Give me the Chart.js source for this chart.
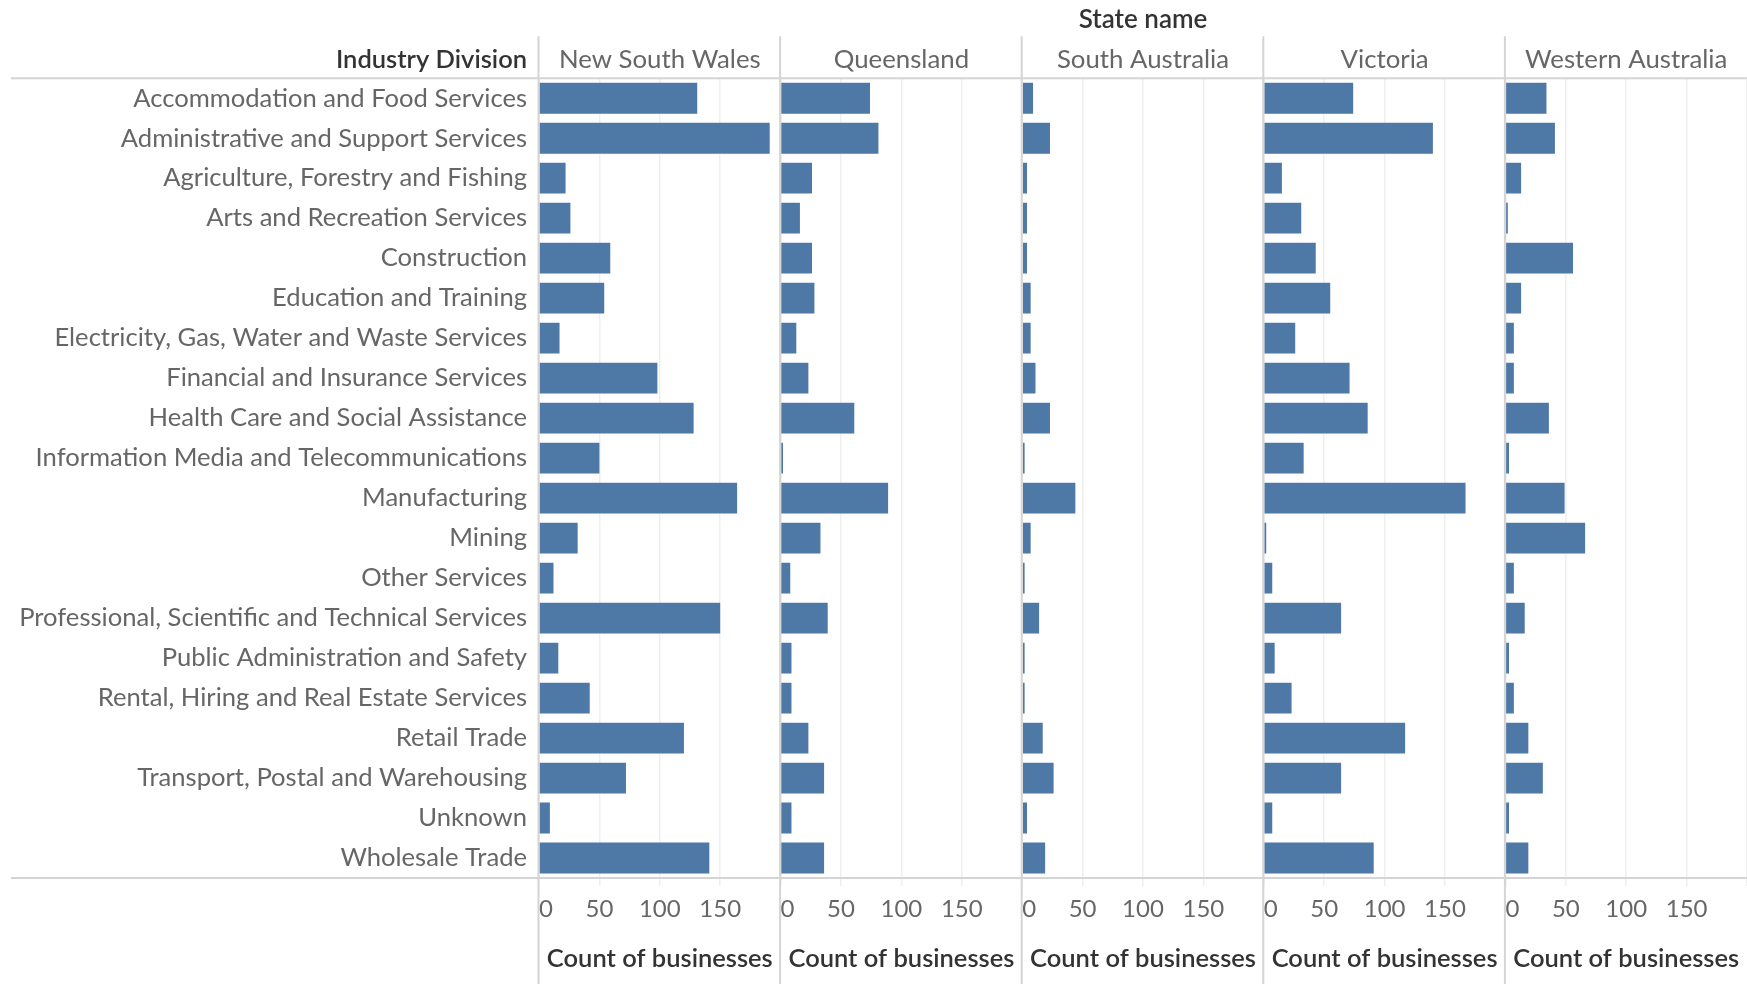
<!DOCTYPE html>
<html>
<head>
<meta charset="utf-8">
<script src="https://cdn.jsdelivr.net/npm/chart.js@4.4.1/dist/chart.umd.min.js"></script>
<style>
  html, body { margin: 0; padding: 0; background: #fff; }
  #wrap { width: 1747px; height: 984px; }
</style>
</head>
<body>
<div id="wrap"><canvas id="chart" width="1747" height="984"></canvas></div>
<script>
// rows, top to bottom
const industries = [
    'Accommodation and Food Services',
    'Administrative and Support Services',
    'Agriculture, Forestry and Fishing',
    'Arts and Recreation Services',
    'Construction',
    'Education and Training',
    'Electricity, Gas, Water and Waste Services',
    'Financial and Insurance Services',
    'Health Care and Social Assistance',
    'Information Media and Telecommunications',
    'Manufacturing',
    'Mining',
    'Other Services',
    'Professional, Scientific and Technical Services',
    'Public Administration and Safety',
    'Rental, Hiring and Real Estate Services',
    'Retail Trade',
    'Transport, Postal and Warehousing',
    'Unknown',
    'Wholesale Trade'
];

const states = ['New South Wales', 'Queensland', 'South Australia', 'Victoria', 'Western Australia'];

// count of businesses per state, same order as industries
const nsw = [131, 191, 22, 26, 59, 54, 17, 98, 128, 50, 164, 32, 12, 150, 16, 42, 120, 72, 9, 141];
const qld = [74, 81, 26, 16, 26, 28, 13, 23, 61, 2, 89, 33, 8, 39, 9, 9, 23, 36, 9, 36];
const sa = [9, 23, 4, 4, 4, 7, 7, 11, 23, 2, 44, 7, 2, 14, 2, 2, 17, 26, 4, 19];
const vic = [74, 140, 15, 31, 43, 55, 26, 71, 86, 33, 167, 2, 7, 64, 9, 23, 117, 64, 7, 91];
const wa = [34, 41, 13, 2, 56, 13, 7, 7, 36, 3, 49, 66, 7, 16, 3, 7, 19, 31, 3, 19];

const xMax = 200;
const xStep = 50;

const series = [nsw, qld, sa, vic, wa];

const FONT = 'Lato';
const labelGrey = '#666666';
const darkText = '#333333';
const barBlue = '#4e79a7';
const ruleGrey = '#d4d4d4';
const gridGrey = '#efefef';

const headSize = 25.8;
const headPadTop = 8;

function draw() {

    const scales = {
        y: {
            type: 'category',
            position: 'left',
            grid: {display: false, drawTicks: false},
            border: {display: false},
            ticks: {
                color: labelGrey,
                padding: 12,
                font: {family: FONT, size: 25.6}
            },
            afterFit: function (scale) {
                scale.width = 539;
            }
        }
    };

    // headers above the panels: top boxes get laid out in reverse order
    for (let i = states.length - 1; i >= 0; i--) {
        scales['h' + i] = {
            type: 'linear',
            position: 'top',
            stack: 'head',
            stackWeight: 1,
            min: 0,
            max: xMax,
            grid: {display: false, drawTicks: false},
            border: {display: false},
            ticks: {display: false},
            title: {
                display: true,
                text: states[i],
                color: labelGrey,
                font: {family: FONT, size: headSize},
                padding: {top: headPadTop, bottom: 3.1}
            }
        };
    }

    // value axis of each panel
    states.forEach(function (name, i) {
        scales['x' + i] = {
            type: 'linear',
            position: 'bottom',
            stack: 'foot',
            stackWeight: 1,
            min: 0,
            max: xMax,
            grid: {color: gridGrey, lineWidth: 1.5, tickLength: 8},
            border: {display: false},
            ticks: {
                stepSize: xStep,
                align: 'inner',
                autoSkip: false,
                maxRotation: 0,
                color: labelGrey,
                padding: 9,
                font: {family: FONT, size: 24},
                callback: function (v) {
                    return v >= xMax ? '' : v;
                }
            },
            title: {
                display: true,
                text: 'Count of businesses',
                color: darkText,
                font: {family: FONT, size: 25.5, weight: '600'},
                padding: {top: 4, bottom: 10}
            },
            afterFit: function (scale) {
                scale.height = 106;
                // panels run edge to edge, no room kept for tick labels
                scale.paddingLeft = 0;
                scale.paddingRight = 0;
            }
        };
    });

    const framePlugin = {
        id: 'frame',
        beforeDatasetsDraw: function (chart) {
            const ctx = chart.ctx;
            const area = chart.chartArea;
            const headTop = chart.scales.h0.top;
            ctx.save();
            ctx.strokeStyle = ruleGrey;
            ctx.lineWidth = 2;
            [area.top, area.bottom].forEach(function (y) {
                ctx.beginPath();
                ctx.moveTo(11, y);
                ctx.lineTo(chart.width, y);
                ctx.stroke();
            });
            states.forEach(function (s, i) {
                const x = chart.scales['x' + i].getPixelForValue(0) - 0.5;
                ctx.beginPath();
                ctx.moveTo(x, headTop);
                ctx.lineTo(x, chart.height);
                ctx.stroke();
            });
            ctx.restore();
        },
        afterDraw: function (chart) {
            const ctx = chart.ctx;
            const area = chart.chartArea;
            const headTop = chart.scales.h0.top;
            ctx.save();
            ctx.fillStyle = darkText;
            ctx.font = '600 25.5px ' + FONT;
            ctx.textAlign = 'right';
            ctx.textBaseline = 'middle';
            ctx.fillText('Industry Division', area.left - 12, headTop + headPadTop + headSize * 0.6);
            ctx.restore();
        }
    };

    new Chart(document.getElementById('chart'), {
        type: 'bar',
        data: {
            labels: industries,
            datasets: series.map(function (vals, i) {
                return {
                    label: states[i],
                    data: vals,
                    xAxisID: 'x' + i,
                    yAxisID: 'y',
                    backgroundColor: barBlue,
                    grouped: false,
                    categoryPercentage: 1,
                    barPercentage: 0.77
                };
            })
        },
        options: {
            indexAxis: 'y',
            responsive: false,
            animation: false,
            layout: {padding: {top: 0, left: 0, bottom: 0, right: -2}},
            scales: scales,
            plugins: {
                legend: {display: false},
                tooltip: {enabled: false},
                title: {
                    display: true,
                    text: 'State name',
                    fullSize: false,
                    color: darkText,
                    font: {family: FONT, size: 26, weight: '600'},
                    padding: {top: 4, bottom: 1}
                }
            }
        },
        plugins: [framePlugin]
    });
}

document.fonts.load('24px ' + FONT).then(draw, draw);
</script>
</body>
</html>
